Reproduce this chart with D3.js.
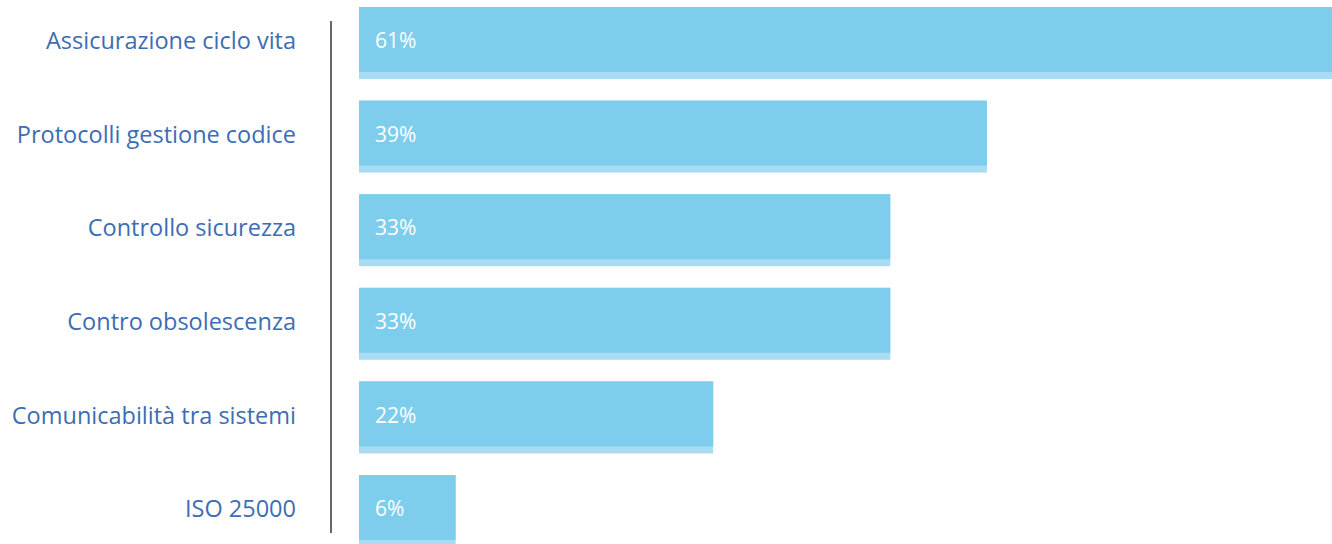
<!DOCTYPE html>
<html lang="it">
<head>
<meta charset="UTF-8">
<script src="https://d3js.org/d3.v7.min.js"></script>
<style>
  body { margin: 0; background: #fff; }
  svg text { font-family: "Open Sans", sans-serif; }
</style>
</head>
<body>
<svg id="chart" width="1332" height="544"></svg>
<script>
const categories = ["Assicurazione ciclo vita", "Protocolli gestione codice", "Controllo sicurezza",
  "Contro obsolescenza", "Comunicabilità tra sistemi", "ISO 25000"];
const values = [61, 39, 33, 33, 22, 6];

const svg = d3.select("#chart");

const x = d3.scaleLinear().domain([0, 100]).range([359, 359 + 1610]);
// step 93.6, band 72
const y = d3.scaleBand().domain(categories).range([7, 7 + 93.6 * 5 + 72]).paddingInner(21.6 / 93.6).paddingOuter(0);

const stripH = 7;
const bars = svg.selectAll(".bar").data(categories).enter().append("g").attr("class", "bar");

bars.append("rect")
  .attr("x", x(0))
  .attr("y", d => y(d))
  .attr("width", (d, i) => x(values[i]) - x(0))
  .attr("height", y.bandwidth())
  .attr("fill", "#a8dcf2");

bars.append("rect")
  .attr("x", x(0))
  .attr("y", d => y(d))
  .attr("width", (d, i) => x(values[i]) - x(0))
  .attr("height", y.bandwidth() - stripH)
  .attr("fill", "#7ecdec");

bars.append("text")
  .attr("x", x(0) + 16)
  .attr("y", d => y(d) + (y.bandwidth() - stripH) / 2 + 3)
  .attr("dominant-baseline", "middle")
  .attr("fill", "#fff")
  .style("font-size", "21px")
  .text((d, i) => values[i] + "%");

// category labels
svg.selectAll(".lab").data(categories).enter().append("text")
  .attr("class", "lab")
  .attr("x", 296)
  .attr("y", d => y(d) + y.bandwidth() / 2)
  .attr("text-anchor", "end")
  .attr("dominant-baseline", "middle")
  .attr("fill", "#3c6db4")
  .style("font-size", "23.5px")
  .text(d => d);

// vertical axis line
svg.append("line")
  .attr("x1", 331).attr("x2", 331)
  .attr("y1", 21).attr("y2", 533)
  .attr("stroke", "#666")
  .attr("stroke-width", 2);
</script>
</body>
</html>
